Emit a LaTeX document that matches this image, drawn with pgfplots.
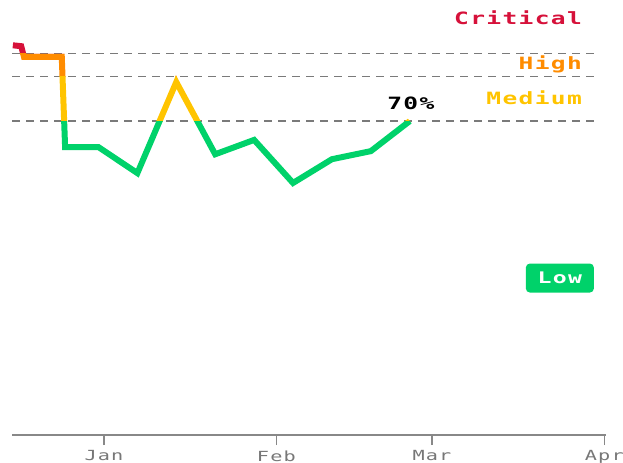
\documentclass[border=0pt]{standalone}
\usepackage{fontspec}
\usepackage{pgfplots}
\pgfplotsset{compat=1.18}
\newfontfamily\chartfont[FakeStretch=1.45,LetterSpace=8]{DejaVu Sans Mono}
\newfontfamily\chartbold[FakeStretch=1.45,LetterSpace=8,UprightFont={* Bold}]{DejaVu Sans Mono}
\definecolor{crit}{HTML}{D6113A}
\definecolor{high}{HTML}{FF8C00}
\definecolor{med}{HTML}{FFC400}
\definecolor{low}{HTML}{00D26A}
\definecolor{axisgray}{HTML}{888888}
\definecolor{labelgray}{HTML}{777777}
\definecolor{dashgray}{HTML}{7A7A7A}

\pgfplotstableread{
day value
-16.4 86.9
-14.9 86.7
-14.4 84.3
-7.6 84.3
-7.0 64.2
-1.0 64.2
6 58.4
13 78.7
20 62.6
27 65.8
34 56.2
41 61.5
48 63.3
55 70.0
}\datatable

\pgfplotstableread{
x y
-16.5 85
89.2 85
}\lineA
\pgfplotstableread{
x y
-16.5 80
89.2 80
}\lineB
\pgfplotstableread{
x y
-16.5 70
89.2 70
}\lineC

\begin{document}
\begin{tikzpicture}
\useasboundingbox (0,0) rectangle (623bp,463bp);
\begin{axis}[
  at={(12.3bp,28bp)}, anchor=south west,
  scale only axis, width=593.7bp, height=435bp,
  xmin=-16.5, xmax=90.3, ymin=0, ymax=97,
  axis x line=bottom, axis y line=none,
  x axis line style={-, draw=axisgray, line width=1.3bp},
  xtick={0,31,59,90}, xticklabels={Jan,Feb,Mar,Apr},
  xtick style={draw=axisgray, line width=1.3bp},
  major tick length=10bp, tick align=outside,
  xticklabel style={font=\chartfont\fontsize{14}{14}\selectfont, text=labelgray, yshift=-2bp},
  clip=false,
]
\addplot[dashgray, line width=1.2bp, dash pattern=on 8bp off 6bp] table {\lineA};
\addplot[dashgray, line width=1.2bp, dash pattern=on 8bp off 6bp] table {\lineB};
\addplot[dashgray, line width=1.2bp, dash pattern=on 8bp off 6bp] table {\lineC};

\begin{scope}
\clip (axis cs:-20,85) rectangle (axis cs:95,100);
\addplot[crit, line width=6bp, line join=miter, mark=none] table {\datatable};
\end{scope}
\begin{scope}
\clip (axis cs:-20,80) rectangle (axis cs:95,85);
\addplot[high, line width=6bp, line join=miter, mark=none] table {\datatable};
\end{scope}
\begin{scope}
\clip (axis cs:-20,70) rectangle (axis cs:95,80);
\addplot[med, line width=6bp, line join=miter, mark=none] table {\datatable};
\end{scope}
\begin{scope}
\clip (axis cs:-20,0) rectangle (axis cs:95,70);
\addplot[low, line width=6bp, line join=miter, mark=none] table {\datatable};
\end{scope}

\node[anchor=east, inner sep=0, text=crit, font=\chartbold\fontsize{17}{17}\selectfont] at (axis cs:86,93) {Critical};
\node[anchor=east, inner sep=0, text=high, font=\chartbold\fontsize{17}{17}\selectfont] at (axis cs:86,82.7) {High};
\node[anchor=east, inner sep=0, text=med, font=\chartbold\fontsize{17}{17}\selectfont] at (axis cs:86,75.1) {Medium};
\node[inner sep=0, text=black, font=\chartbold\fontsize{17}{17}\selectfont] at (axis cs:55.2,74) {70\%};
\node[fill=low, text=white, rounded corners=4bp, minimum width=68bp, minimum height=29bp, inner sep=0, font=\chartbold\fontsize{16}{16}\selectfont] at (axis cs:82,35) {Low};
\end{axis}
\end{tikzpicture}
\end{document}
